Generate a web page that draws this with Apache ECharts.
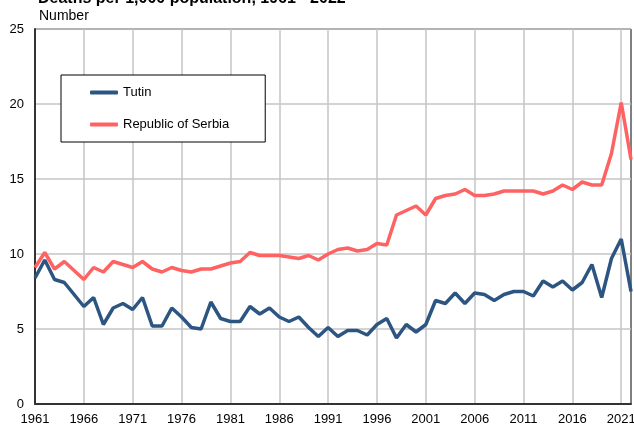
<!DOCTYPE html>
<html>
<head>
<meta charset="utf-8">
<script src="https://cdn.jsdelivr.net/npm/echarts@6/dist/echarts.min.js"></script>
<style>
  html, body { margin: 0; padding: 0; background: #fff; }
  #chart { width: 634px; height: 428px; }
</style>
</head>
<body>
<div id="chart"></div>
<script>
// 年份 1961 - 2022
let years = [];
for (let y = 1961; y <= 2022; y++) years.push(String(y));

// Tutin
let tutin = [
    8.4, 9.6, 8.3, 8.1, 7.3, 6.5, 7.1, 5.3, 6.4, 6.7,
    6.3, 7.1, 5.2, 5.2, 6.4, 5.8, 5.1, 5.0, 6.8, 5.7,
    5.5, 5.5, 6.5, 6.0, 6.4, 5.8, 5.5, 5.8, 5.1, 4.5,
    5.1, 4.5, 4.9, 4.9, 4.6, 5.3, 5.7, 4.4, 5.3, 4.8,
    5.3, 6.9, 6.7, 7.4, 6.7, 7.4, 7.3, 6.9, 7.3, 7.5,
    7.5, 7.2, 8.2, 7.8, 8.2, 7.6, 8.1, 9.3, 7.1, 9.7,
    11.0, 7.5
];
// Republic of Serbia
let serbia = [
    9.1, 10.1, 9.0, 9.5, 8.9, 8.3, 9.1, 8.8, 9.5, 9.3,
    9.1, 9.5, 9.0, 8.8, 9.1, 8.9, 8.8, 9.0, 9.0, 9.2,
    9.4, 9.5, 10.1, 9.9, 9.9, 9.9, 9.8, 9.7, 9.9, 9.6,
    10.0, 10.3, 10.4, 10.2, 10.3, 10.7, 10.6, 12.6, 12.9, 13.2,
    12.6, 13.7, 13.9, 14.0, 14.3, 13.9, 13.9, 14.0, 14.2, 14.2,
    14.2, 14.2, 14.0, 14.2, 14.6, 14.3, 14.8, 14.6, 14.6, 16.7,
    20.1, 16.3
];

(function () {
    let myChart = echarts.init(document.getElementById('chart'))
    let font = 'Liberation Sans, Arial, sans-serif'
    let option = {
        animation: false,
        textStyle: { fontFamily: font },
        title: [
            {
                text: 'Deaths per 1,000 population, 1961 - 2022',
                left: 33,
                top: -14,
                textStyle: { fontSize: 16, fontWeight: 'bold', color: '#000', fontFamily: font }
            },
            {
                text: 'Number',
                left: 34,
                top: 4,
                textStyle: { fontSize: 14, fontWeight: 'normal', color: '#000', fontFamily: font }
            }
        ],
        legend: {
            orient: 'vertical',
            left: 61,
            top: 75,
            padding: [11, 36, 11, 29],
            itemGap: 19,
            itemWidth: 28,
            itemHeight: 4,
            icon: 'roundRect',
            backgroundColor: '#fff',
            borderColor: '#000',
            borderWidth: 1,
            textStyle: { fontSize: 13, color: '#000', fontFamily: font },
            data: ['Tutin', 'Republic of Serbia']
        },
        grid: {
            left: 35,
            right: 3,
            top: 29,
            bottom: 24,
            outerBoundsMode: 'none',
            containLabel: false,
            show: true,
            borderColor: '#000',
            borderWidth: 1
        },
        xAxis: {
            type: 'category',
            boundaryGap: false,
            data: years,
            axisLine: { lineStyle: { color: '#333', width: 2 } },
            axisTick: { show: false },
            axisLabel: { interval: 4, color: '#000', fontSize: 13, margin: 9, fontFamily: font },
            splitLine: { show: true, interval: 4, lineStyle: { color: '#c4c4c4', width: 1.5 } }
        },
        yAxis: {
            type: 'value',
            min: 0,
            max: 25,
            interval: 5,
            axisLine: { show: true, lineStyle: { color: '#333', width: 2 } },
            axisTick: { show: false },
            axisLabel: { color: '#000', fontSize: 13, margin: 11, fontFamily: font },
            splitLine: { lineStyle: { color: '#c4c4c4', width: 1.5 } }
        },
        series: [
            {
                name: 'Tutin',
                type: 'line',
                data: tutin,
                showSymbol: false,
                color: '#2d5582',
                lineStyle: { width: 3.5 }
            },
            {
                name: 'Republic of Serbia',
                type: 'line',
                data: serbia,
                showSymbol: false,
                color: '#ff6262',
                lineStyle: { width: 3.5 }
            }
        ]
    }
    myChart.setOption(option)
})();
</script>
</body>
</html>
